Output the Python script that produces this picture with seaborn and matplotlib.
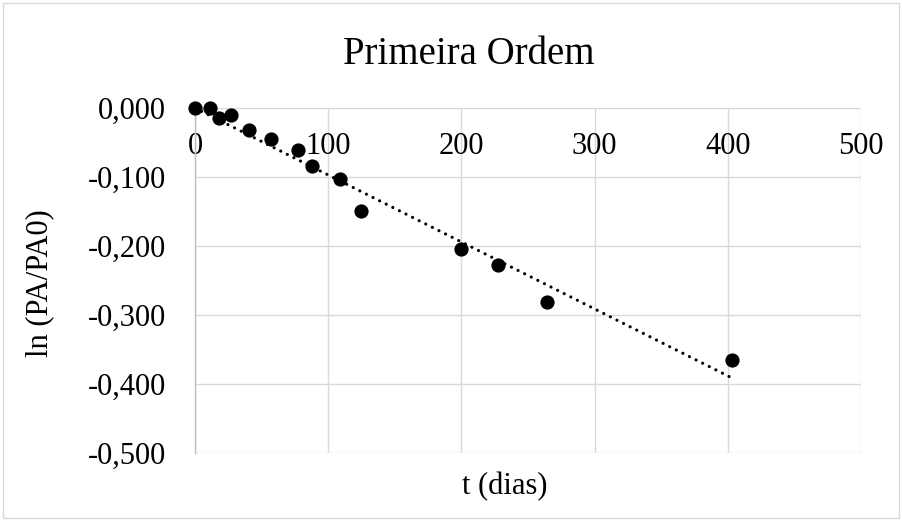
import numpy as np
import pandas as pd
import matplotlib
matplotlib.use("Agg")
import matplotlib.pyplot as plt
import seaborn as sns
from matplotlib.patches import Rectangle
from matplotlib.ticker import FuncFormatter

# Measured decay data
t_dias = [0, 11, 18, 27, 40.5, 57, 77, 87.6, 109, 124.4, 199.7, 227.7, 264.5, 403.4]
ln_pa = [0.0, 0.0, -0.015, -0.010, -0.032, -0.045, -0.061, -0.084, -0.103,
         -0.149, -0.205, -0.2275, -0.281, -0.365]

x_ticks = [0, 100, 200, 300, 400, 500]
y_ticks = [0.0, -0.1, -0.2, -0.3, -0.4, -0.5]

df = pd.DataFrame({"t": t_dias, "lnp": ln_pa})

sns.set_theme(style="white")
plt.rcParams["font.family"] = ["Liberation Serif", "DejaVu Serif"]
plt.rcParams["text.color"] = "black"

fig = plt.figure(figsize=(9.02, 5.2), dpi=100)
ax = fig.add_axes([195 / 902, 1 - 453 / 520, (861 - 195) / 902, (453 - 108) / 520])

# first-order linear trend forced through the origin
x = np.array(t_dias)
y = np.array(ln_pa)
k = np.sum(x * y) / np.sum(x * x)
xf = np.array([0, x.max()])
ax.plot(xf, k * xf, color="black", lw=2.3, linestyle=(0, (0.01, 2.3)),
        dash_capstyle="round", zorder=2, clip_on=False)

sns.scatterplot(data=df, x="t", y="lnp", ax=ax, color="black", s=105,
                edgecolor="black", linewidth=0, zorder=3, clip_on=False)

ax.set_xlim(0, 500)
ax.set_ylim(-0.5, 0)
ax.set_xticks(x_ticks)
ax.set_yticks(y_ticks)
ax.yaxis.set_major_formatter(FuncFormatter(lambda v, p: f"{v:.3f}".replace(".", ",")))
ax.xaxis.set_major_formatter(FuncFormatter(lambda v, p: f"{int(v)}"))

ax.grid(True, color="#d9d9d9", lw=1.0)
ax.set_axisbelow(True)
for s in ["top", "right", "bottom"]:
    ax.spines[s].set_visible(False)
ax.spines["left"].set_color("#bfbfbf")
ax.spines["left"].set_linewidth(1.0)

ax.xaxis.set_ticks_position("top")
ax.tick_params(axis="x", top=False, bottom=False, labeltop=True, labelbottom=False,
               pad=-44, labelsize=22, colors="black")
ax.tick_params(axis="y", left=False, pad=15, labelsize=22, colors="black")

ax.set_xlabel("")
ax.set_ylabel("")
fig.text(505 / 902, 1 - 487 / 520, "t (dias)", ha="center", va="center", fontsize=22)
fig.text(40 / 902, 1 - 283 / 520, "ln (PA/PA0)", ha="center", va="center",
         rotation=90, fontsize=22)
fig.text(469 / 902, 1 - 55 / 520, "Primeira Ordem", ha="center", va="center", fontsize=28)

fig.patches.append(Rectangle((3 / 902, 2 / 520), 896 / 902, 515 / 520,
                             transform=fig.transFigure, fill=False,
                             edgecolor="#d9d9d9", lw=1.0))

fig.savefig("out.png", dpi=100)
